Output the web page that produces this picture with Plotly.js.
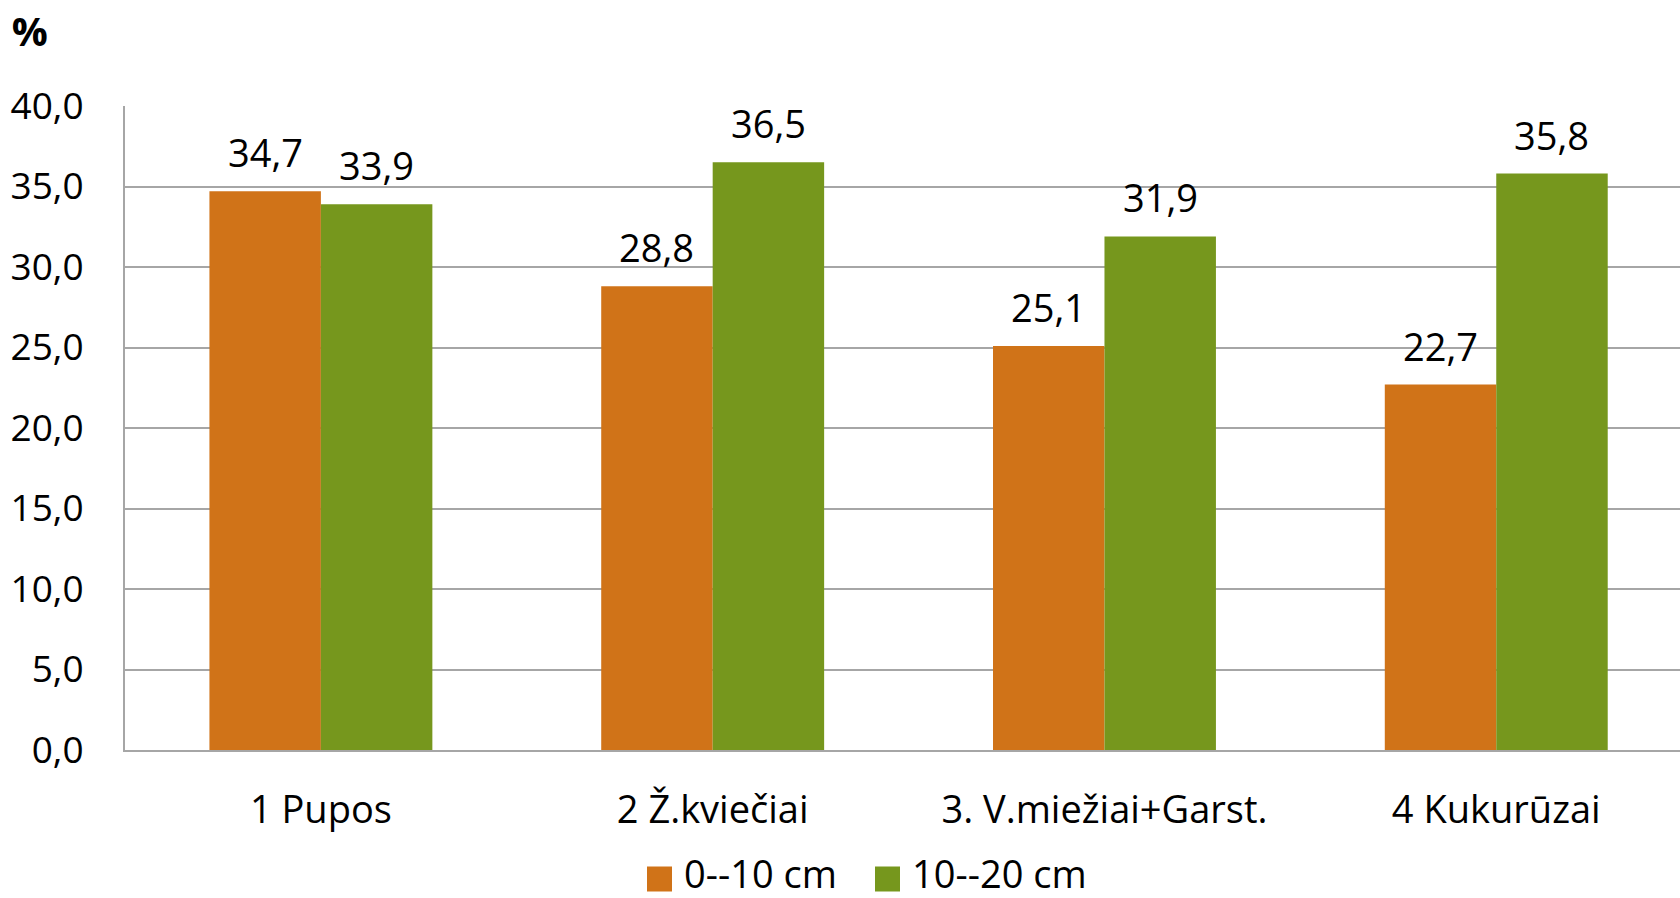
<!DOCTYPE html>
<html>
<head>
<meta charset="utf-8">
<script src="https://cdn.plot.ly/plotly-3.0.1.min.js"></script>
<style>
  html, body { margin: 0; padding: 0; background: #fff; }
  #chart { width: 1680px; height: 898px; }
</style>
</head>
<body>
<div id="chart"></div>
<script>
// Crops and soil depth layers
const categories = ["1 Pupos", "2 Ž.kviečiai", "3. V.miežiai+Garst.", "4 Kukurūzai"];
const seriesNames = ["0--10 cm", "10--20 cm"];
const depth0to10 = [34.7, 28.8, 25.1, 22.7];
const depth10to20 = [33.9, 36.5, 31.9, 35.8];
const yTicks = [0, 5, 10, 15, 20, 25, 30, 35, 40];

const colors = ["#D07318", "#76971D"];
const fontFamily = "'Open Sans', 'Noto Sans', sans-serif";
const fontSize = 38;

const W = 1680, H = 898;
const margin = { l: 125, r: 0, t: 106, b: 148 };
const bargap = 0.431;
const xRange = [-0.5, 3.469];

const seriesValues = [depth0to10, depth10to20];

const traces = seriesValues.map((vals, i) => ({
  type: "bar",
  x: categories,
  y: vals,
  name: seriesNames[i],
  marker: { color: colors[i], line: { width: 0 } },
  showlegend: false,
  hoverinfo: "x+y+name"
}));

// value labels above each bar
const plotW = W - margin.l - margin.r;
const plotH = H - margin.t - margin.b;
const groupW = plotW / (xRange[1] - xRange[0]);
const barW = groupW * (1 - bargap) / seriesValues.length;
const annotations = [];
seriesValues.forEach((vals, i) => {
  const shift = (i - (seriesValues.length - 1) / 2) * barW;
  vals.forEach((v, j) => {
    annotations.push({
      xref: "x", yref: "y",
      x: categories[j], y: v,
      xshift: shift,
      yshift: 11,
      yanchor: "bottom",
      showarrow: false,
      text: v.toFixed(1).replace(".", ","),
      font: { family: fontFamily, size: fontSize, color: "#000" }
    });
  });
});

// legend at the bottom: square swatch followed by the series name
const px2x = px => (px - margin.l) / plotW;
const px2y = py => (H - margin.b - py) / plotH;
const legendItems = [
  { sq: 647, text: 682 },
  { sq: 875, text: 910 }
];
const sqSize = 25, sqCy = 879, textCy = 873;
const shapes = [];
legendItems.forEach((it, i) => {
  shapes.push({
    type: "rect", xref: "paper", yref: "paper",
    x0: px2x(it.sq), x1: px2x(it.sq + sqSize),
    y0: px2y(sqCy + sqSize / 2), y1: px2y(sqCy - sqSize / 2),
    fillcolor: colors[i], line: { width: 0 }
  });
  annotations.push({
    xref: "paper", yref: "paper",
    x: px2x(it.text), y: px2y(textCy),
    xanchor: "left", yanchor: "middle",
    showarrow: false,
    text: seriesNames[i],
    font: { family: fontFamily, size: fontSize, color: "#000" }
  });
});

const layout = {
  width: W,
  height: H,
  autosize: false,
  margin: margin,
  paper_bgcolor: "#fff",
  plot_bgcolor: "#fff",
  separators: ", ",
  barmode: "group",
  bargap: bargap,
  bargroupgap: 0,
  showlegend: false,
  font: { family: fontFamily, size: fontSize, color: "#000" },
  title: {
    text: "<b>%</b>",
    x: 0.007, xanchor: "left", xref: "container",
    y: 1 - 32 / H, yanchor: "middle", yref: "container",
    font: { family: fontFamily, size: 40, color: "#000" }
  },
  xaxis: {
    type: "category",
    range: xRange,
    showgrid: false,
    showline: true,
    linecolor: "#A6A6A6",
    linewidth: 2,
    ticks: "",
    ticklabelstandoff: 25,
    tickfont: { family: fontFamily, size: fontSize, color: "#000" },
    fixedrange: true
  },
  yaxis: {
    range: [0, 40],
    tickvals: yTicks,
    tickformat: ".1f",
    showgrid: true,
    gridcolor: "#A6A6A6",
    gridwidth: 2,
    zeroline: false,
    showline: true,
    linecolor: "#A6A6A6",
    linewidth: 2,
    ticks: "",
    ticklabelstandoff: 32,
    tickfont: { family: fontFamily, size: 37, color: "#000" },
    fixedrange: true
  },
  shapes: shapes,
  annotations: annotations
};

Plotly.newPlot("chart", traces, layout, { displayModeBar: false, staticPlot: true });
</script>
</body>
</html>
